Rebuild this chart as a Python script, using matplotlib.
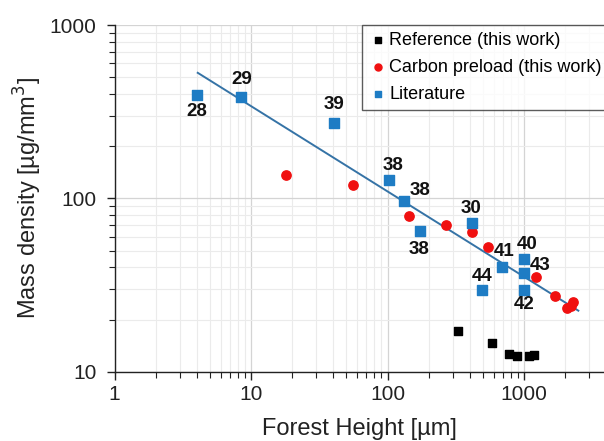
import numpy as np
import matplotlib
matplotlib.use("Agg")
import matplotlib.pyplot as plt
from matplotlib.ticker import FuncFormatter, LogLocator

plt.rcParams['font.family'] = ['Liberation Sans', 'DejaVu Sans']

# Reference (this work)
ref_h = [330, 583, 773, 889, 1082, 1183]
ref_rho = [17.2, 14.7, 12.7, 12.4, 12.3, 12.5]

# Carbon preload (this work)
cp_h = [18, 56, 143, 267, 414, 547, 1224, 1687, 2056, 2296, 2200]
cp_rho = [137, 120, 79.4, 70, 63.6, 52.3, 35, 27.5, 23.3, 25.1, 24]

# Literature, with reference numbers
lit_h = [4.04, 8.5, 40.8, 102, 132, 173, 414, 492, 693, 1000, 1000, 1000]
lit_rho = [395, 384, 272, 127, 96.4, 64.7, 72.4, 29.8, 40, 44.6, 37.3, 29.8]
lit_ref = ['28', '29', '39', '38', '38', '38', '30', '44', '41', '40', '43', '42']
# label offsets (pixels) relative to each point
lit_off = [(0, -17), (0, 18), (0, 19), (4, 15), (16, 11), (-1, -18),
           (-1, 14), (0, 13), (2, 16), (3, 15), (16, 7), (0, -15)]

# trend line (power law) end points
trend_h = [4.07, 2500]
trend_rho = [530, 22.5]

fig = plt.figure(figsize=(6.04, 4.41), dpi=100)
ax = fig.add_axes([0.1896, 0.1571, 0.8104, 0.7862])

ax.plot(trend_h, trend_rho, color='#3573A6', lw=1.4, zorder=2)
ax.scatter(ref_h, ref_rho, marker='s', s=40, color='black', zorder=3,
           label='Reference (this work)')
ax.scatter(cp_h, cp_rho, marker='o', s=45, color='#F01010', zorder=3,
           label='Carbon preload (this work)')
ax.scatter(lit_h, lit_rho, marker='s', s=42, color='#1E7CC4', zorder=4,
           label='Literature')

for h, r, t, off in zip(lit_h, lit_rho, lit_ref, lit_off):
    ax.annotate(t, (h, r), xytext=off, textcoords='offset pixels',
                ha='center', va='center', fontsize=13.5, fontweight='bold',
                color='#111111', zorder=5)

ax.set_xscale('log')
ax.set_yscale('log')
ax.set_xlim(1, 3855)
ax.set_ylim(10, 1000)

fmt = FuncFormatter(lambda v, p: '%d' % round(v))
ax.xaxis.set_major_formatter(fmt)
ax.yaxis.set_major_formatter(fmt)
ax.xaxis.set_minor_formatter(FuncFormatter(lambda v, p: ''))
ax.yaxis.set_minor_formatter(FuncFormatter(lambda v, p: ''))
ax.xaxis.set_minor_locator(LogLocator(subs=np.arange(2, 10)))
ax.yaxis.set_minor_locator(LogLocator(subs=np.arange(2, 10)))

ax.grid(True, which='major', color='#d4d4d4', lw=0.9)
ax.grid(True, which='minor', color='#ebebeb', lw=0.8)
ax.set_axisbelow(True)

for s in ['top', 'right']:
    ax.spines[s].set_visible(False)
for s in ['left', 'bottom']:
    ax.spines[s].set_color('#222222')
    ax.spines[s].set_linewidth(1.0)

ax.tick_params(which='both', direction='out', color='#222222',
               labelsize=15, labelcolor='#222222')
ax.tick_params(axis='y', which='major', pad=7)
ax.tick_params(which='major', length=6, width=1.0)
ax.tick_params(which='minor', length=4, width=0.8)

ax.set_xlabel('Forest Height [µm]', fontsize=17, color='#222222', labelpad=10)
ax.set_ylabel('Mass density [µg/mm$^3$]', fontsize=17, color='#222222', labelpad=4)

leg = ax.legend(loc='upper left', bbox_to_anchor=(362 / 604, 1 - 25 / 441),
                bbox_transform=fig.transFigure, fontsize=13, frameon=True,
                fancybox=False, edgecolor='#333333', handletextpad=0.1,
                handlelength=1.0, borderpad=0.4, labelspacing=0.55,
                markerscale=0.75, borderaxespad=0)
leg.get_frame().set_linewidth(1.0)
leg.set_zorder(6)

fig.savefig('out.png', dpi=100)
